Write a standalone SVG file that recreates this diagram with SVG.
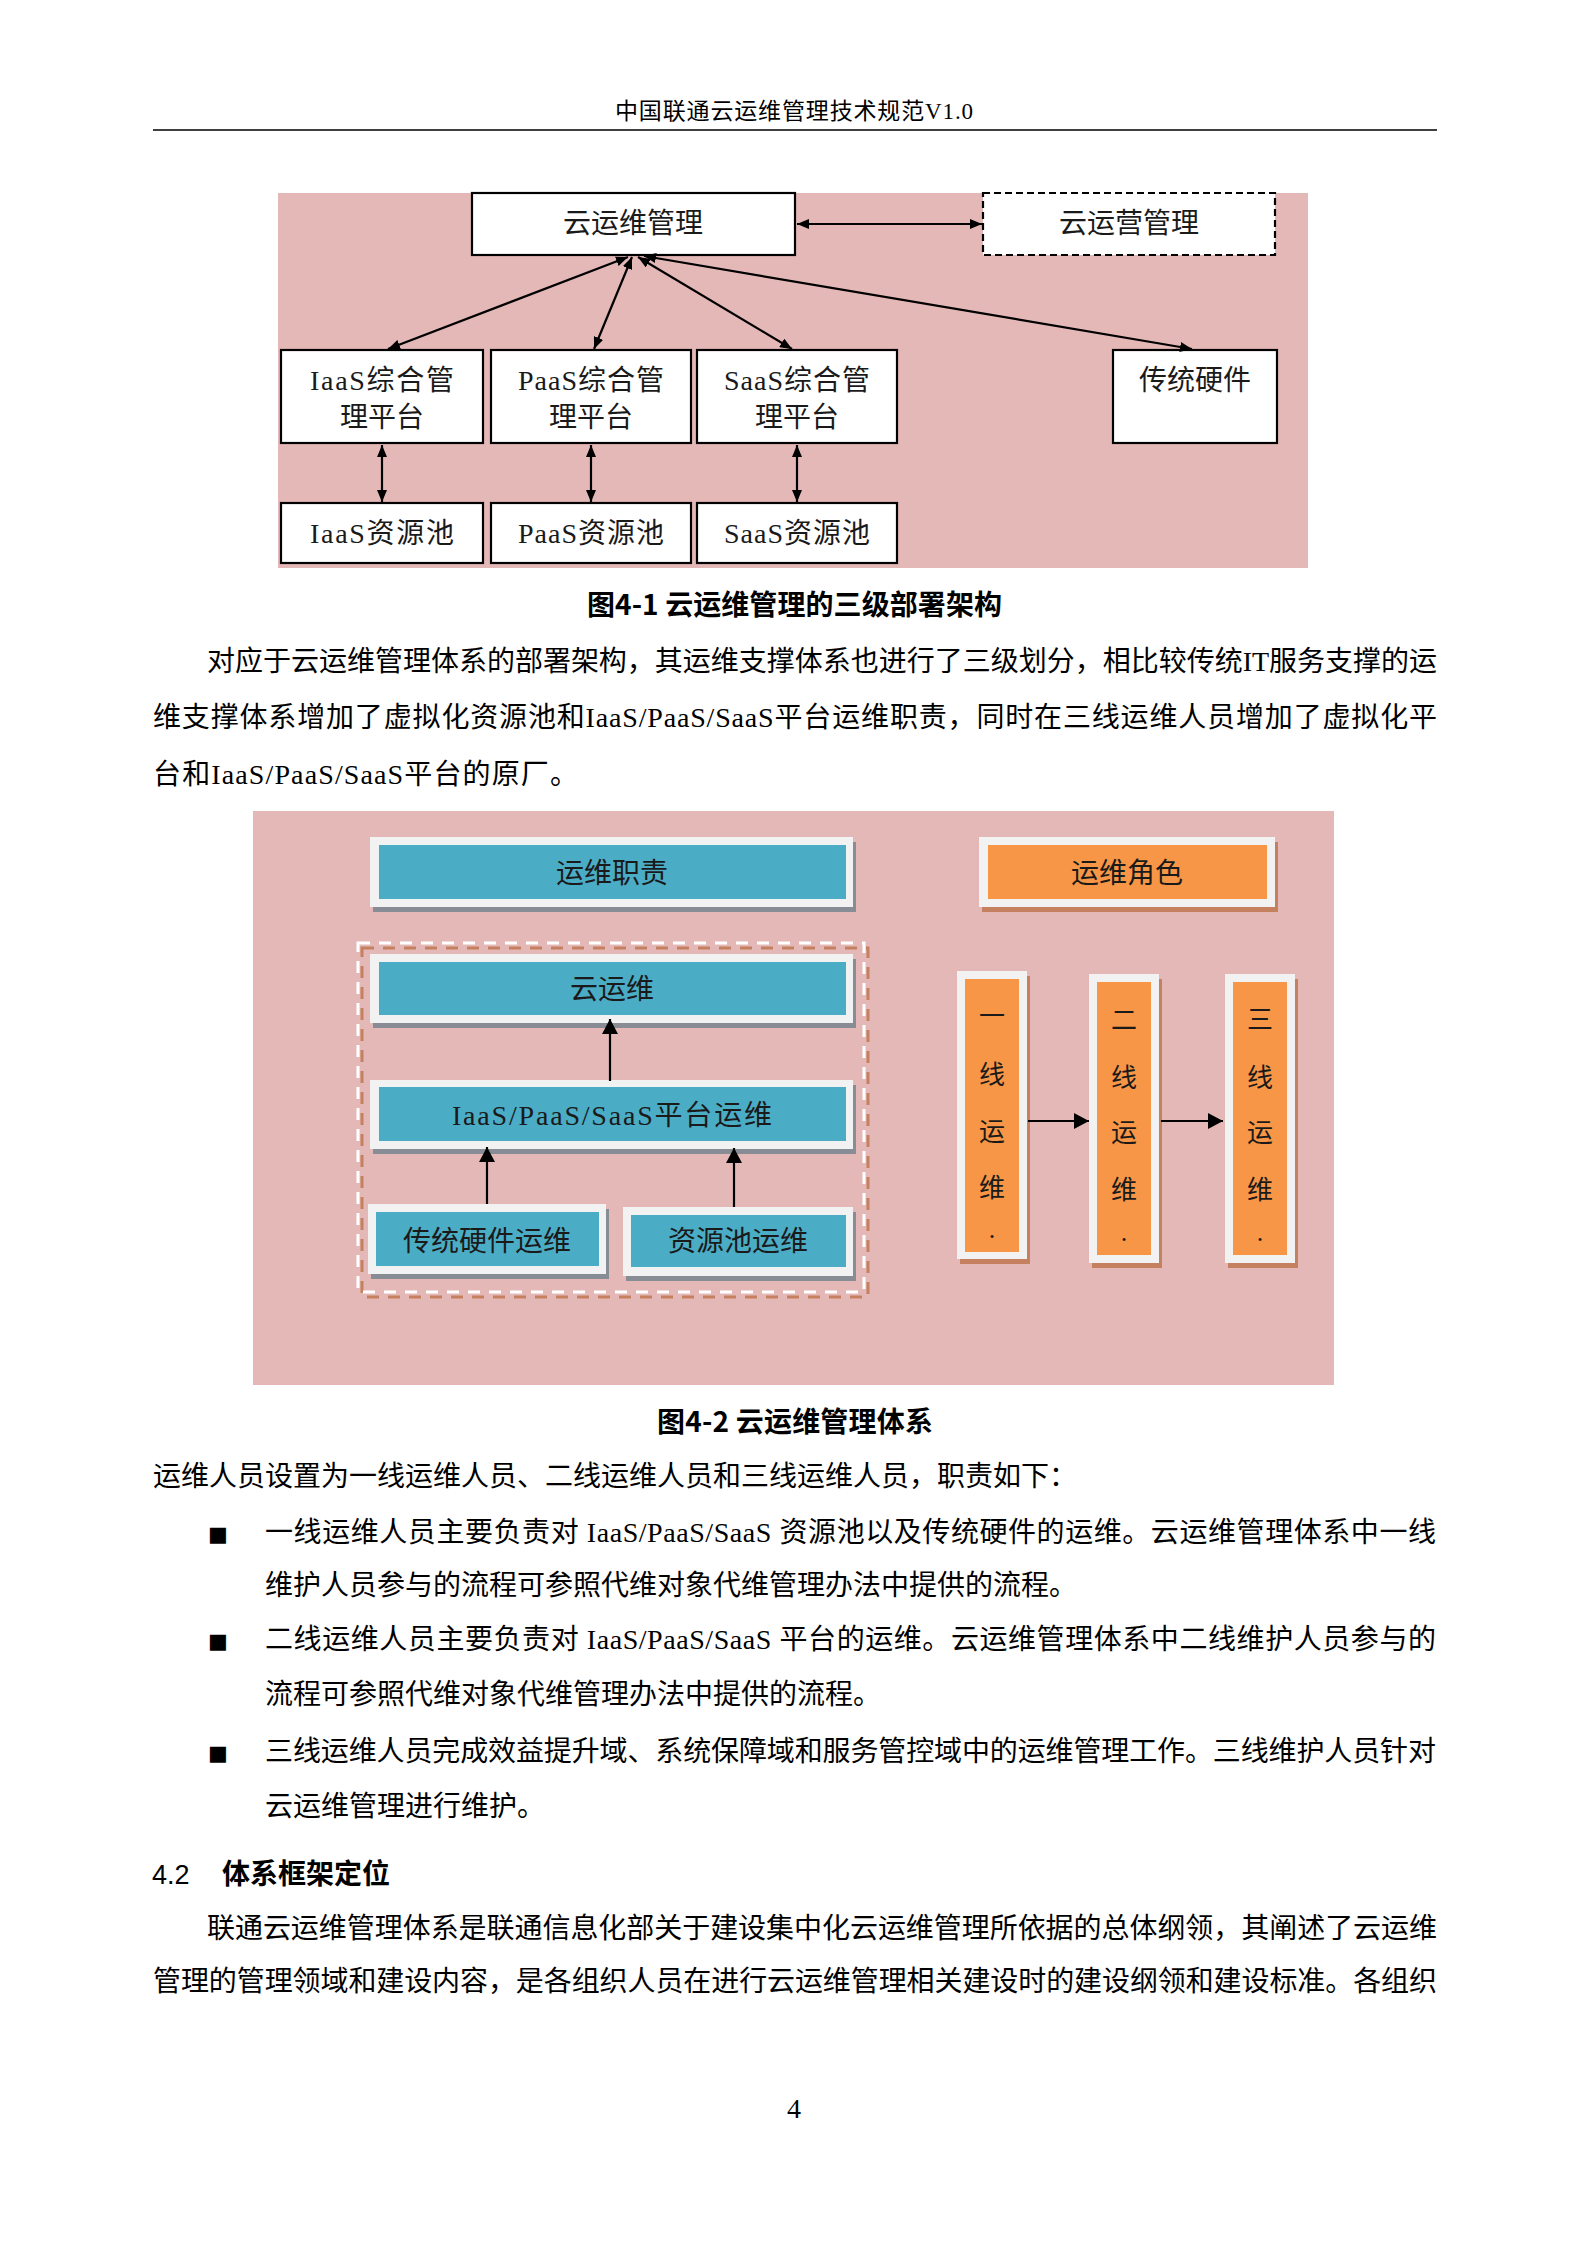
<svg xmlns="http://www.w3.org/2000/svg" width="1587" height="2244" viewBox="0 0 1587 2244">
<defs>
<style>
.body{font-family:"Liberation Serif","Noto Sans CJK SC",serif;font-size:28px;fill:#000}
.hd{font-family:"Liberation Serif","Noto Sans CJK SC",serif;font-size:23px;fill:#000}
.cap{font-family:"Noto Sans CJK SC","Liberation Sans",sans-serif;font-size:28px;font-weight:bold;fill:#000}
.bx{fill:#fff;stroke:#000;stroke-width:2.2}
.bt{font-family:"Liberation Serif","Noto Sans CJK SC",serif;font-size:28px;fill:#1a1a1a;text-anchor:middle}
.ln{stroke:#000;stroke-width:2.2;fill:none}
.frame{fill:#f2f2f2}
.blue{fill:#4bacc6}
.orange{fill:#f79646}
.gsh{fill:#878c95}
.osh{fill:#c4805f}
.vt{font-family:"Liberation Serif","Noto Sans CJK SC",serif;font-size:26px;fill:#1a1a1a;text-anchor:middle}
</style>
<marker id="ah" viewBox="0 0 12 10" refX="12" refY="5" markerWidth="12" markerHeight="10" markerUnits="userSpaceOnUse" orient="auto-start-reverse">
<path d="M0,0 L12,5 L0,10 z" fill="#000"/>
</marker>
<marker id="ah2" viewBox="0 0 15 16" refX="15" refY="8" markerWidth="15" markerHeight="16" markerUnits="userSpaceOnUse" orient="auto">
<path d="M0,0 L15,8 L0,16 z" fill="#000"/>
</marker>
</defs>
<rect width="1587" height="2244" fill="#fff"/>

<!-- header -->
<text class="hd" x="615" y="119" textLength="358" lengthAdjust="spacing">中国联通云运维管理技术规范V1.0</text>
<line x1="153" y1="130" x2="1437" y2="130" stroke="#000" stroke-width="1.6"/>

<!-- Figure 4-1 -->
<rect x="278" y="193" width="1030" height="375" fill="#e5b8b8"/>
<g id="n-yunwei">
<rect class="bx" x="472" y="193" width="323" height="62"/>
<text class="bt" x="633" y="233">云运维管理</text>
</g>
<g id="n-yunying">
<rect x="983" y="193" width="292" height="62" fill="#fff" stroke="#000" stroke-width="2.2" stroke-dasharray="7,4"/>
<text class="bt" x="1129" y="233">云运营管理</text>
</g>
<g id="n-iaas-p">
<rect class="bx" x="281" y="350" width="202" height="93"/>
<text class="bt" x="382" y="390" textLength="144" lengthAdjust="spacing">IaaS综合管</text>
<text class="bt" x="382" y="427">理平台</text>
</g>
<g id="n-paas-p">
<rect class="bx" x="491" y="350" width="200" height="93"/>
<text class="bt" x="591" y="390" textLength="146" lengthAdjust="spacing">PaaS综合管</text>
<text class="bt" x="591" y="427">理平台</text>
</g>
<g id="n-saas-p">
<rect class="bx" x="697" y="350" width="200" height="93"/>
<text class="bt" x="797" y="390" textLength="146" lengthAdjust="spacing">SaaS综合管</text>
<text class="bt" x="797" y="427">理平台</text>
</g>
<g id="n-hw">
<rect class="bx" x="1113" y="350" width="164" height="93"/>
<text class="bt" x="1195" y="390">传统硬件</text>
</g>
<g id="n-iaas-r">
<rect class="bx" x="281" y="503" width="202" height="60"/>
<text class="bt" x="382" y="543" textLength="144" lengthAdjust="spacing">IaaS资源池</text>
</g>
<g id="n-paas-r">
<rect class="bx" x="491" y="503" width="200" height="60"/>
<text class="bt" x="591" y="543" textLength="146" lengthAdjust="spacing">PaaS资源池</text>
</g>
<g id="n-saas-r">
<rect class="bx" x="697" y="503" width="200" height="60"/>
<text class="bt" x="797" y="543" textLength="146" lengthAdjust="spacing">SaaS资源池</text>
</g>
<g id="connectors-1">
<line class="ln" x1="797" y1="224" x2="982" y2="224" marker-start="url(#ah)" marker-end="url(#ah)"/>
<line class="ln" x1="628" y1="257" x2="388" y2="349" marker-start="url(#ah)" marker-end="url(#ah)"/>
<line class="ln" x1="632" y1="257" x2="594" y2="349" marker-start="url(#ah)" marker-end="url(#ah)"/>
<line class="ln" x1="638" y1="257" x2="792" y2="349" marker-start="url(#ah)" marker-end="url(#ah)"/>
<line class="ln" x1="644" y1="256" x2="1192" y2="349" marker-start="url(#ah)" marker-end="url(#ah)"/>
<line class="ln" x1="382" y1="445" x2="382" y2="502" marker-start="url(#ah)" marker-end="url(#ah)"/>
<line class="ln" x1="591" y1="445" x2="591" y2="502" marker-start="url(#ah)" marker-end="url(#ah)"/>
<line class="ln" x1="797" y1="445" x2="797" y2="502" marker-start="url(#ah)" marker-end="url(#ah)"/>
</g>
<text class="cap" x="587" y="615" textLength="415" lengthAdjust="spacing">图4-1 云运维管理的三级部署架构</text>

<!-- paragraph 1 -->
<text class="body" x="207" y="671" textLength="1230" lengthAdjust="spacing">对应于云运维管理体系的部署架构，其运维支撑体系也进行了三级划分，相比较传统IT服务支撑的运</text>
<text class="body" x="153" y="727" textLength="1284" lengthAdjust="spacing">维支撑体系增加了虚拟化资源池和IaaS/PaaS/SaaS平台运维职责，同时在三线运维人员增加了虚拟化平</text>
<text class="body" x="153" y="784" textLength="425" lengthAdjust="spacing">台和IaaS/PaaS/SaaS平台的原厂。</text>

<!-- Figure 4-2 -->
<rect x="253" y="811" width="1081" height="574" fill="#e5b8b8"/>
<g id="n-zhize">
<rect class="gsh" x="373" y="842" width="483" height="70"/>
<rect class="frame" x="370" y="837" width="483" height="70"/>
<rect class="blue" x="379" y="845" width="467" height="54"/>
<text class="bt" x="612" y="883">运维职责</text>
</g>
<g id="n-juese">
<rect class="osh" x="982" y="842" width="296" height="70"/>
<rect class="frame" x="979" y="837" width="296" height="70"/>
<rect class="orange" x="988" y="845" width="279" height="54"/>
<text class="bt" x="1127" y="883">运维角色</text>
</g>
<g id="dashed-group">
<rect x="362" y="948" width="506" height="349" fill="none" stroke="#c4805f" stroke-width="3" stroke-dasharray="12,9"/>
<rect x="358" y="943" width="506" height="349" fill="none" stroke="#fff" stroke-width="3" stroke-dasharray="12,9"/>
</g>
<g id="n-yun">
<rect class="gsh" x="373" y="959" width="483" height="69"/>
<rect class="frame" x="370" y="954" width="483" height="69"/>
<rect class="blue" x="379" y="962" width="467" height="53"/>
<text class="bt" x="612" y="999">云运维</text>
</g>
<g id="n-plat">
<rect class="gsh" x="373" y="1085" width="483" height="69"/>
<rect class="frame" x="370" y="1080" width="483" height="69"/>
<rect class="blue" x="379" y="1087" width="467" height="54"/>
<text class="bt" x="612" y="1125" textLength="320" lengthAdjust="spacing">IaaS/PaaS/SaaS平台运维</text>
</g>
<g id="n-hwyw">
<rect class="gsh" x="371" y="1209" width="238" height="70"/>
<rect class="frame" x="368" y="1204" width="238" height="70"/>
<rect class="blue" x="376" y="1212" width="223" height="54"/>
<text class="bt" x="487" y="1251">传统硬件运维</text>
</g>
<g id="n-pool">
<rect class="gsh" x="626" y="1212" width="230" height="69"/>
<rect class="frame" x="623" y="1207" width="230" height="69"/>
<rect class="blue" x="631" y="1215" width="215" height="52"/>
<text class="bt" x="738" y="1251">资源池运维</text>
</g>
<g id="n-l1">
<rect class="osh" x="960" y="976" width="70" height="288"/>
<rect class="frame" x="957" y="971" width="70" height="288"/>
<rect class="orange" x="965" y="979" width="54" height="273"/>
<text class="vt" x="992" y="1025">一</text>
<text class="vt" x="992" y="1084">线</text>
<text class="vt" x="992" y="1141">运</text>
<text class="vt" x="992" y="1197">维</text>
<text class="vt" x="992" y="1238" font-size="14">.</text>
</g>
<g id="n-l2">
<rect class="osh" x="1092" y="979" width="70" height="289"/>
<rect class="frame" x="1089" y="974" width="70" height="289"/>
<rect class="orange" x="1097" y="982" width="54" height="273"/>
<text class="vt" x="1124" y="1029">二</text>
<text class="vt" x="1124" y="1087">线</text>
<text class="vt" x="1124" y="1142">运</text>
<text class="vt" x="1124" y="1199">维</text>
<text class="vt" x="1124" y="1241" font-size="14">.</text>
</g>
<g id="n-l3">
<rect class="osh" x="1228" y="979" width="70" height="289"/>
<rect class="frame" x="1225" y="974" width="70" height="289"/>
<rect class="orange" x="1233" y="982" width="54" height="273"/>
<text class="vt" x="1260" y="1029">三</text>
<text class="vt" x="1260" y="1087">线</text>
<text class="vt" x="1260" y="1142">运</text>
<text class="vt" x="1260" y="1199">维</text>
<text class="vt" x="1260" y="1241" font-size="14">.</text>
</g>
<g id="connectors-2">
<line class="ln" x1="610" y1="1081" x2="610" y2="1019" marker-end="url(#ah2)"/>
<line class="ln" x1="487" y1="1204" x2="487" y2="1147" marker-end="url(#ah2)"/>
<line class="ln" x1="734" y1="1207" x2="734" y2="1148" marker-end="url(#ah2)"/>
<line class="ln" x1="1028" y1="1121" x2="1089" y2="1121" marker-end="url(#ah2)"/>
<line class="ln" x1="1161" y1="1121" x2="1223" y2="1121" marker-end="url(#ah2)"/>
</g>
<text class="cap" x="657" y="1432" textLength="276" lengthAdjust="spacing">图4-2 云运维管理体系</text>

<!-- text below -->
<text class="body" x="153" y="1486">运维人员设置为一线运维人员、二线运维人员和三线运维人员，职责如下：</text>
<text x="208" y="1541" font-family="DejaVu Sans" font-size="21">■</text>
<text class="body" x="265" y="1542" textLength="1171" lengthAdjust="spacing">一线运维人员主要负责对 IaaS/PaaS/SaaS 资源池以及传统硬件的运维。云运维管理体系中一线</text>
<text class="body" x="265" y="1595">维护人员参与的流程可参照代维对象代维管理办法中提供的流程。</text>
<text x="208" y="1648" font-family="DejaVu Sans" font-size="21">■</text>
<text class="body" x="265" y="1649" textLength="1171" lengthAdjust="spacing">二线运维人员主要负责对 IaaS/PaaS/SaaS 平台的运维。云运维管理体系中二线维护人员参与的</text>
<text class="body" x="265" y="1704">流程可参照代维对象代维管理办法中提供的流程。</text>
<text x="208" y="1760" font-family="DejaVu Sans" font-size="21">■</text>
<text class="body" x="265" y="1761" textLength="1171" lengthAdjust="spacing">三线运维人员完成效益提升域、系统保障域和服务管控域中的运维管理工作。三线维护人员针对</text>
<text class="body" x="265" y="1816">云运维管理进行维护。</text>

<text x="152" y="1884" font-family="Liberation Sans" font-size="27">4.2</text>
<text class="cap" x="222" y="1884">体系框架定位</text>
<text class="body" x="207" y="1938" textLength="1230" lengthAdjust="spacing">联通云运维管理体系是联通信息化部关于建设集中化云运维管理所依据的总体纲领，其阐述了云运维</text>
<text class="body" x="153" y="1991" textLength="1284" lengthAdjust="spacing">管理的管理领域和建设内容，是各组织人员在进行云运维管理相关建设时的建设纲领和建设标准。各组织</text>

<text x="794" y="2118" font-family="Liberation Serif" font-size="28" text-anchor="middle">4</text>
</svg>
